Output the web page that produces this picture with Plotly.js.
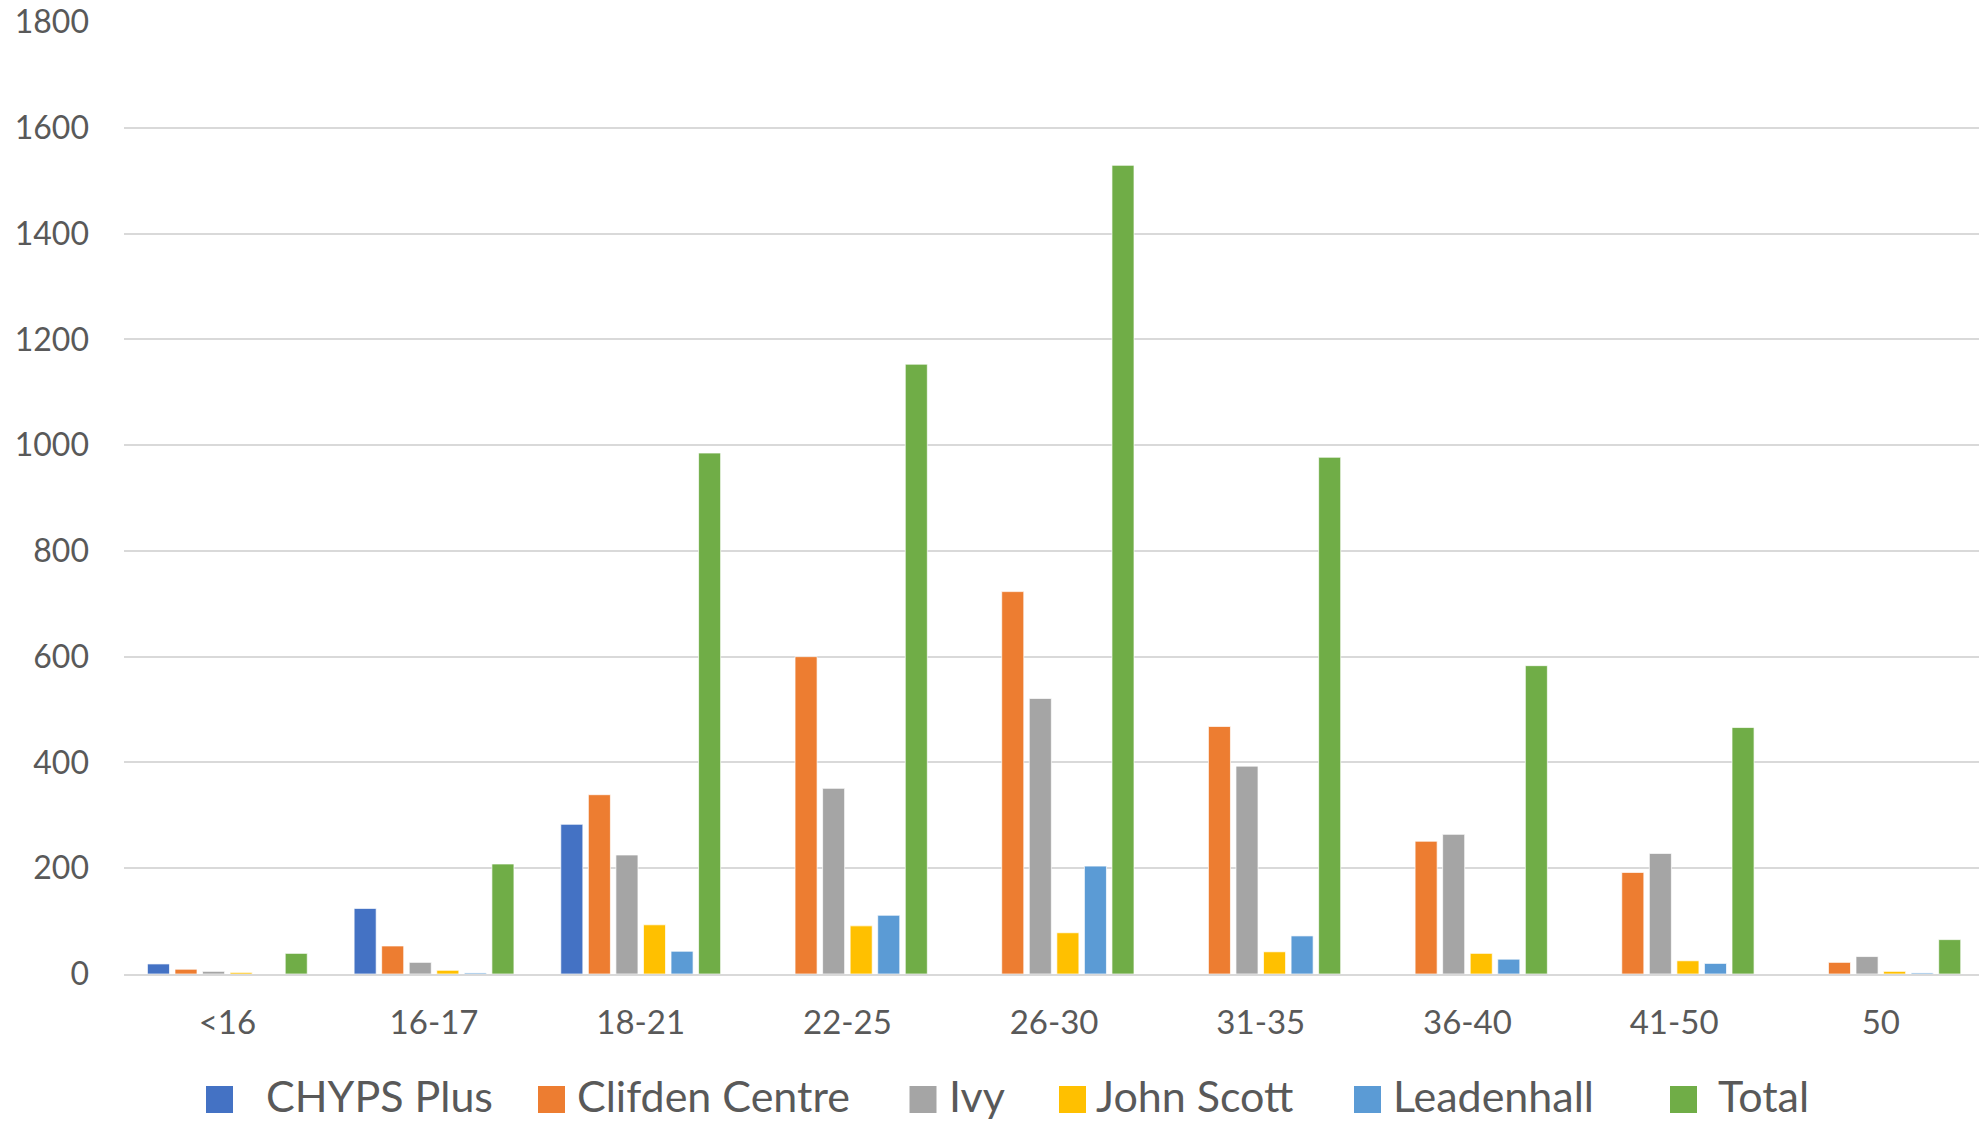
<!DOCTYPE html>
<html>
<head>
<meta charset="utf-8">
<script src="https://cdn.plot.ly/plotly-3.0.1.min.js"></script>
<style>
  html, body { margin: 0; padding: 0; background: #ffffff; }
  #chart { width: 1979px; height: 1121px; }
</style>
</head>
<body>
<div id="chart"></div>
<script>
const categories = ['<16', '16-17', '18-21', '22-25', '26-30', '31-35', '36-40', '41-50', '50'];
const seriesNames = ['CHYPS Plus', 'Clifden Centre', 'Ivy', 'John Scott', 'Leadenhall', 'Total'];
const chypsPlus = [19, 124, 283, null, null, null, null, null, null];
const clifdenCentre = [9, 53, 339, 600, 723, 468, 251, 192, 22];
const ivy = [5, 22, 225, 351, 521, 393, 264, 228, 33];
const johnScott = [3, 7, 93, 91, 78, 42, 39, 25, 5];
const leadenhall = [null, 2, 43, 111, 204, 72, 28, 20, 2];
const total = [39, 208, 985, 1153, 1529, 977, 583, 466, 65];
const yTicks = [0, 200, 400, 600, 800, 1000, 1200, 1400, 1600, 1800];

const seriesValues = [chypsPlus, clifdenCentre, ivy, johnScott, leadenhall, total];
const colors = ['#4472C4', '#ED7D31', '#A5A5A5', '#FFC000', '#5B9BD5', '#70AD47'];

// legend layout (pixel placement of swatches and labels, as in the reference)
const legendSwatchLeft = [206, 538, 909.5, 1059, 1354, 1670];
const legendSwatchTop = 1086;
const legendSwatchSize = 27;
const legendTextLeft = [266, 577, 949, 1096, 1393, 1718];
const legendBaseline = 1112.5;

const traces = seriesNames.map((name, i) => ({
  type: 'bar',
  name: name,
  x: categories,
  y: seriesValues[i],
  marker: { color: colors[i], line: { color: 'rgba(255,255,255,0.7)', width: 1 } },
  hoverinfo: 'x+y+name'
}));

const fontFamily = 'Lato, "Open Sans", sans-serif';

const layout = {
  width: 1979,
  height: 1121,
  margin: { l: 124, r: 0, t: 22, b: 147 },
  paper_bgcolor: '#ffffff',
  plot_bgcolor: '#ffffff',
  font: { family: fontFamily, color: '#595959', size: 32 },
  barmode: 'group',
  bargap: 0.2,
  bargroupgap: 0.2,
  showlegend: true,
  legend: {
    orientation: 'h',
    x: 0.478,
    xanchor: 'center',
    y: -0.05,
    yanchor: 'top',
    font: { family: fontFamily, size: 43, color: '#595959' },
    bgcolor: 'rgba(0,0,0,0)',
    traceorder: 'normal'
  },
  xaxis: {
    type: 'category',
    range: [-0.5, 8.475],
    showgrid: false,
    zeroline: false,
    showline: true,
    linecolor: '#d9d9d9',
    linewidth: 2,
    ticks: '',
    tickfont: { family: fontFamily, size: 33, color: '#595959' },
    ticklabelstandoff: 18,
    fixedrange: true
  },
  yaxis: {
    range: [0, 1800],
    tickmode: 'array',
    tickvals: yTicks,
    ticktext: yTicks.map(String),
    showgrid: true,
    gridcolor: '#d9d9d9',
    gridwidth: 2,
    zeroline: false,
    showline: false,
    ticks: '',
    tickfont: { family: fontFamily, size: 32, color: '#595959' },
    ticklabelstandoff: 34,
    fixedrange: true
  }
};

Plotly.newPlot('chart', traces, layout, { displayModeBar: false, staticPlot: true }).then(function (gd) {
  gd.querySelectorAll('.legend .scrollbox').forEach(function (s) { s.removeAttribute('clip-path'); });
  gd.querySelectorAll('.legend').forEach(function (l) { l.removeAttribute('clip-path'); });
  const items = gd.querySelectorAll('.legend .traces');
  items.forEach(function (it, i) {
    if (i >= legendSwatchLeft.length) return;
    const path = it.querySelector('.legendpoints path');
    if (path) {
      const pm = path.getScreenCTM();
      const x0 = legendSwatchLeft[i] - pm.e;
      const y0 = legendSwatchTop - pm.f;
      const s = legendSwatchSize;
      path.setAttribute('d', 'M' + x0 + ',' + y0 + 'H' + (x0 + s) + 'V' + (y0 + s) + 'H' + x0 + 'Z');
      path.style.strokeWidth = '0px';
    }
    const t = it.querySelector('text.legendtext');
    if (t) {
      const tm = t.getScreenCTM();
      t.setAttribute('x', legendTextLeft[i] - tm.e);
      t.setAttribute('y', legendBaseline - tm.f);
      t.querySelectorAll('tspan').forEach(function (ts) { ts.removeAttribute('x'); ts.removeAttribute('y'); });
    }
  });
});
</script>
</body>
</html>
